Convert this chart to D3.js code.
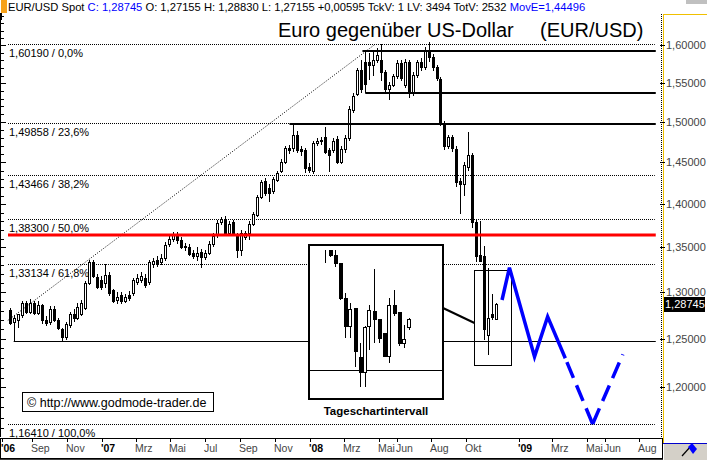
<!DOCTYPE html>
<html><head><meta charset="utf-8">
<script src="https://cdn.jsdelivr.net/npm/d3@7"></script>
<style>body{margin:0;background:#fff}svg{display:block;font-family:"Liberation Sans",Arial,sans-serif}</style>
</head><body><svg id="c" width="707" height="460"></svg>
<script>
// ---------- DATA ----------
const weekStart = "2006-07-23";
const open  = [1.281,1.268,1.270,1.275,1.288,1.279,1.288,1.278,1.286,1.270,1.268,1.282,1.270,1.260,1.252,1.265,1.277,1.272,1.276,1.283,1.310,1.333,1.317,1.314,1.310,1.319,1.302,1.292,1.297,1.291,1.297,1.299,1.311,1.314,1.316,1.311,1.331,1.336,1.333,1.338,1.354,1.360,1.364,1.359,1.350,1.351,1.344,1.340,1.345,1.339,1.344,1.354,1.364,1.379,1.383,1.366,1.379,1.364,1.347,1.362,1.366,1.377,1.387,1.409,1.428,1.419,1.416,1.429,1.440,1.451,1.468,1.468,1.484,1.466,1.465,1.445,1.440,1.474,1.476,1.481,1.465,1.465,1.479,1.451,1.466,1.480,1.516,1.536,1.567,1.549,1.578,1.574,1.581,1.580,1.564,1.543,1.548,1.559,1.577,1.548,1.578,1.537,1.561,1.578,1.571,1.591,1.584,1.571,1.556,1.499,1.470,1.481,1.467,1.427,1.424,1.444,1.459,1.379,1.341,1.340,1.254,1.276,1.27155];
const high  = [1.283,1.275,1.277,1.291,1.290,1.293,1.290,1.290,1.287,1.274,1.285,1.285,1.272,1.262,1.268,1.279,1.282,1.288,1.292,1.312,1.336,1.336,1.320,1.318,1.331,1.322,1.304,1.300,1.300,1.298,1.301,1.316,1.320,1.322,1.320,1.336,1.338,1.340,1.342,1.356,1.365,1.368,1.368,1.362,1.355,1.354,1.347,1.351,1.348,1.347,1.357,1.367,1.381,1.385,1.386,1.380,1.382,1.366,1.370,1.369,1.380,1.391,1.411,1.429,1.431,1.424,1.432,1.440,1.454,1.470,1.472,1.497,1.489,1.470,1.468,1.449,1.477,1.480,1.482,1.494,1.468,1.480,1.483,1.470,1.484,1.520,1.537,1.570,1.581,1.582,1.590,1.594,1.596,1.602,1.567,1.552,1.562,1.580,1.580,1.582,1.581,1.564,1.581,1.583,1.598,1.604,1.588,1.574,1.558,1.502,1.484,1.484,1.470,1.431,1.450,1.488,1.462,1.382,1.380,1.352,1.327,1.298,1.28830];
const low   = [1.265,1.247,1.262,1.272,1.276,1.276,1.275,1.275,1.266,1.264,1.265,1.268,1.259,1.248,1.249,1.262,1.268,1.270,1.274,1.281,1.308,1.316,1.304,1.302,1.305,1.296,1.288,1.287,1.287,1.288,1.290,1.296,1.308,1.310,1.305,1.308,1.327,1.328,1.330,1.335,1.350,1.356,1.354,1.348,1.346,1.340,1.337,1.335,1.327,1.336,1.341,1.351,1.361,1.376,1.363,1.363,1.364,1.338,1.340,1.358,1.358,1.374,1.385,1.406,1.410,1.403,1.412,1.426,1.437,1.448,1.460,1.463,1.461,1.458,1.437,1.437,1.436,1.470,1.472,1.460,1.439,1.461,1.448,1.448,1.462,1.477,1.512,1.533,1.537,1.546,1.554,1.560,1.577,1.553,1.536,1.528,1.545,1.555,1.553,1.544,1.531,1.534,1.557,1.566,1.567,1.578,1.566,1.553,1.495,1.465,1.466,1.463,1.420,1.389,1.410,1.440,1.372,1.333,1.334,1.249,1.233,1.270,1.27155];
const close = [1.267,1.272,1.276,1.288,1.279,1.288,1.278,1.286,1.270,1.267,1.282,1.270,1.262,1.252,1.266,1.276,1.272,1.284,1.288,1.310,1.333,1.318,1.306,1.306,1.319,1.299,1.290,1.295,1.291,1.295,1.294,1.313,1.316,1.318,1.308,1.333,1.335,1.332,1.338,1.353,1.360,1.364,1.358,1.351,1.352,1.343,1.340,1.344,1.339,1.344,1.354,1.363,1.378,1.383,1.366,1.377,1.367,1.347,1.367,1.366,1.377,1.388,1.409,1.426,1.413,1.413,1.430,1.437,1.451,1.468,1.465,1.484,1.465,1.464,1.443,1.441,1.474,1.476,1.478,1.463,1.459,1.477,1.451,1.466,1.480,1.517,1.533,1.567,1.543,1.578,1.574,1.580,1.587,1.564,1.543,1.548,1.559,1.577,1.557,1.578,1.537,1.561,1.578,1.571,1.594,1.584,1.571,1.557,1.499,1.470,1.481,1.468,1.426,1.424,1.447,1.459,1.379,1.340,1.335,1.261,1.272,1.273,1.28745];

// Fibonacci retracement levels
const fibLevels = [1.60190, 1.49858, 1.43466, 1.38300, 1.33134, 1.16410];
const fibLabels = ["1,60190 / 0,0%","1,49858 / 23,6%","1,43466 / 38,2%","1,38300 / 50,0%","1,33134 / 61,8%","1,16410 / 100,0%"];
const fibStart = {date:"2005-11-21", price:1.16410};
const fibEnd   = {date:"2008-04-25", price:1.60190};

// drawn lines
const redLevel = 1.3642;
const blackLevels = [1.5925, 1.5373, 1.4972, 1.2476];
const blackStarts = ["2008-04-02","2008-04-07","2007-11-26","2006-07-30"];
const blackWidths = [2, 2, 2, 1];
const lineEnd = "2009-08-28";
const boxDates = ["2008-10-15","2008-12-19"];
const boxPrices = [1.3246, 1.2229];

// projection
const projDates  = ["2008-12-03","2008-12-16","2009-01-29","2009-02-21","2009-03-24"];
const projPrices = [1.2916, 1.3272, 1.2315, 1.2736, 1.2298];
const projDashDates  = ["2009-05-11","2009-03-24","2009-05-11","2009-07-03"];
const projDashPrices = [1.1637, 1.2298, 1.1637, 1.2339];

// inset daily candles
const dayLabels = ["09.10","10.10","13.10","14.10","15.10","16.10","17.10","20.10","21.10","22.10","23.10","24.10","27.10","28.10","29.10","30.10","31.10","03.11"];
const dOpen  = [1.350,1.352,1.348,1.341,1.310,1.286,1.302,1.259,1.246,1.286,1.299,1.292,1.280,1.260,1.304,1.298,1.271,1.285];
const dHigh  = [1.352,1.352,1.352,1.341,1.315,1.306,1.302,1.271,1.286,1.304,1.336,1.292,1.280,1.310,1.317,1.298,1.287,1.293];
const dLow   = [1.341,1.346,1.337,1.309,1.276,1.276,1.250,1.233,1.233,1.265,1.271,1.271,1.259,1.254,1.295,1.269,1.267,1.283];
const dClose = [1.350,1.348,1.341,1.310,1.286,1.301,1.264,1.246,1.285,1.300,1.292,1.276,1.260,1.304,1.297,1.271,1.275,1.292];
const insetLevel = 1.2476;

// axes
const priceTicks = [1.20,1.25,1.30,1.35,1.40,1.45,1.50,1.55,1.60];
const lastPrice = 1.28745;
const timeTickDates  = ["2006-07-09","2006-09-01","2006-11-01","2007-01-01","2007-03-01","2007-05-01","2007-07-01","2007-09-01","2007-11-01","2008-01-01","2008-03-01","2008-05-01","2008-06-01","2008-08-01","2008-10-01","2009-01-01","2009-03-01","2009-05-01","2009-06-01","2009-08-01"];
const timeTickLabels = ["'06","Sep","Nov","'07","Mrz","Mai","Jul","Sep","Nov","'08","Mrz","Mai","Jun","Aug","Okt","'09","Mrz","Mai","Jun","Aug"];

// ---------- CHART ----------
const svg = d3.select("#c");
const P = d3.timeParse("%Y-%m-%d");
const L = {left:8, right:662, top:14, bottom:437};
const x = d3.scaleTime().domain([P("2007-01-01"), P("2008-01-01")]).range([102, 310]);
const y = d3.scaleLog().domain([1.15103, 1.64284]).range([L.bottom, L.top]);
const fmt5 = v => d3.format(".5f")(v).replace(".", ",");
const dates = open.map((_, i) => d3.timeDay.offset(P(weekStart), 7 * i));

svg.append("rect").attr("width",707).attr("height",460).attr("fill","#fff");
svg.append("defs").append("clipPath").attr("id","plot").append("rect")
  .attr("x",L.left-1).attr("y",L.top).attr("width",L.right-L.left).attr("height",L.bottom-L.top);

const g = svg.append("g").attr("clip-path","url(#plot)");
const xEnd = x(P(lineEnd));

// fib dotted lines
fibLevels.forEach((v,i) => {
  const yy = Math.round(y(v)) + 0.5;
  g.append("line").attr("x1",L.left).attr("x2",xEnd).attr("y1",yy).attr("y2",yy)
    .attr("stroke","#000").attr("stroke-width",1).attr("stroke-dasharray","1,1");
  svg.append("text").attr("x",9).attr("y",y(v)+13).attr("font-size",11).attr("fill","#000").text(fibLabels[i]);
});
// diagonal fib trend
g.append("line").attr("x1",x(P(fibStart.date))).attr("y1",y(fibStart.price))
  .attr("x2",x(P(fibEnd.date))).attr("y2",y(fibEnd.price))
  .attr("stroke","#000").attr("stroke-width",1).attr("stroke-dasharray","1,1.6");

// candles
const cg = g.append("g").attr("shape-rendering","crispEdges");
dates.forEach((d,i) => {
  const px = Math.round(x(d));
  const up = close[i] >= open[i];
  cg.append("line").attr("x1",px+0.5).attr("x2",px+0.5).attr("y1",y(high[i])).attr("y2",y(low[i]))
    .attr("stroke","#000").attr("stroke-width",1);
  const yt = Math.round(y(Math.max(open[i],close[i]))), yb = Math.round(y(Math.min(open[i],close[i])));
  if (up) {
    cg.append("rect").attr("x",px-0.5).attr("y",yt+0.5).attr("width",2).attr("height",Math.max(1,yb-yt))
      .attr("fill","#fff").attr("stroke","#000").attr("stroke-width",1);
  } else {
    cg.append("rect").attr("x",px-1).attr("y",yt).attr("width",3).attr("height",Math.max(1,yb-yt+1)).attr("fill","#000");
  }
});

// red line and black lines
g.append("line").attr("x1",L.left).attr("x2",xEnd+1).attr("y1",y(redLevel)).attr("y2",y(redLevel))
  .attr("stroke","#ff0000").attr("stroke-width",3);
blackLevels.forEach((v,i) => {
  g.append("line").attr("x1",x(P(blackStarts[i]))).attr("x2",xEnd+1).attr("y1",Math.round(y(v))+(blackWidths[i]===1?0.5:0)).attr("y2",Math.round(y(v))+(blackWidths[i]===1?0.5:0))
    .attr("stroke","#000").attr("stroke-width",blackWidths[i]);
});
// left side of consolidation box
g.append("line").attr("x1",Math.round(x(P(blackStarts[1])))+0.5).attr("x2",Math.round(x(P(blackStarts[1])))+0.5)
  .attr("y1",y(blackLevels[0])).attr("y2",y(blackLevels[1])).attr("stroke","#000").attr("stroke-width",1);

// small box around Oct candles
const bx0 = Math.round(x(P(boxDates[0])))+0.5, bx1 = Math.round(x(P(boxDates[1])))+0.5;
const by0 = Math.round(y(boxPrices[0]))+0.5, by1 = Math.round(y(boxPrices[1]))+0.5;
g.append("rect").attr("x",bx0).attr("y",by0).attr("width",bx1-bx0).attr("height",by1-by0)
  .attr("fill","none").attr("stroke","#000").attr("stroke-width",1);

// projection
const pl = d3.line().x(d=>x(P(d[0]))).y(d=>y(d[1]));
g.append("path").attr("d",pl(projDates.map((d,i)=>[d,projPrices[i]])))
  .attr("fill","none").attr("stroke","#0000ff").attr("stroke-width",3.5).attr("stroke-linejoin","miter");
[[0,1],[2,3]].forEach(([a,b]) => {
  g.append("path").attr("d",pl([[projDashDates[a],projDashPrices[a]],[projDashDates[b],projDashPrices[b]]]))
    .attr("fill","none").attr("stroke","#0000ff").attr("stroke-width",3.5).attr("stroke-dasharray","17,8");
});

// connector from inset to box
svg.append("line").attr("x1",443).attr("y1",308).attr("x2",bx0).attr("y2",323)
  .attr("stroke","#000").attr("stroke-width",2);

// inset
const IN = {x:309, y:245, w:134, h:154};
svg.append("rect").attr("x",IN.x).attr("y",IN.y).attr("width",IN.w).attr("height",IN.h)
  .attr("fill","#fff").attr("stroke","#000").attr("stroke-width",2);
const xi = d3.scalePoint().domain(dayLabels).range([325, 409]);
const yi = d3.scaleLinear().domain([1.2252, 1.3556]).range([396, 246]);
svg.append("line").attr("x1",IN.x+1).attr("x2",IN.x+IN.w-1).attr("y1",Math.round(yi(insetLevel))+0.5).attr("y2",Math.round(yi(insetLevel))+0.5)
  .attr("stroke","#000").attr("stroke-width",1);
const ig = svg.append("g").attr("shape-rendering","crispEdges");
dayLabels.forEach((d,i) => {
  const px = Math.round(xi(d));
  ig.append("line").attr("x1",px+0.5).attr("x2",px+0.5).attr("y1",yi(dHigh[i])).attr("y2",yi(dLow[i]))
    .attr("stroke","#000").attr("stroke-width",1);
  const yt = Math.round(yi(Math.max(dOpen[i],dClose[i]))), yb = Math.round(yi(Math.min(dOpen[i],dClose[i])));
  if (dClose[i] > dOpen[i]) {
    ig.append("rect").attr("x",px-1.5).attr("y",yt+0.5).attr("width",3).attr("height",Math.max(1,yb-yt))
      .attr("fill","#fff").attr("stroke","#000").attr("stroke-width",1);
  } else if (dClose[i] < dOpen[i]) {
    ig.append("rect").attr("x",px-1).attr("y",yt).attr("width",4).attr("height",Math.max(1,yb-yt+1)).attr("fill","#000");
  }
});
svg.append("text").attr("x",IN.x+IN.w/2).attr("y",415).attr("text-anchor","middle")
  .attr("font-size",11.5).attr("font-weight","bold").text("Tageschartintervall");

// copyright box
svg.append("rect").attr("x",22.5).attr("y",392.5).attr("width",191).attr("height",19)
  .attr("fill","#fff").attr("stroke","#000").attr("stroke-width",1);
svg.append("text").attr("x",27).attr("y",407).attr("font-size",12.5).text("\u00A9 http://www.godmode-trader.de");

// title
svg.append("text").attr("x",278).attr("y",37).attr("font-size",20).text("Euro gegenüber US-Dollar");
svg.append("text").attr("x",540).attr("y",37).attr("font-size",20).text("(EUR/USD)");

// header
svg.append("rect").attr("x",1).attr("y",0).attr("width",6).attr("height",13).attr("fill","#f7a11a");
svg.append("rect").attr("x",0).attr("y",13).attr("width",2).attr("height",7).attr("fill","#000");
const hdr = svg.append("text").attr("x",8).attr("y",11).attr("font-size",11.2);
hdr.append("tspan").text("EUR/USD Spot ");
hdr.append("tspan").attr("fill","#0000ff").text("C: 1,28745");
hdr.append("tspan").text(" O: 1,27155 H: 1,28830 L: 1,27155 +0,00595 TckV: 1 LV: 3494 TotV: 2532 ");
hdr.append("tspan").attr("fill","#0000ff").text("MovE=1,44496");
svg.append("rect").attr("x",686).attr("y",0).attr("width",21).attr("height",4).attr("fill","#c0c0c0");

// left axis ticks
const lt = svg.append("g").attr("shape-rendering","crispEdges");
lt.append("line").attr("x1",0.5).attr("x2",0.5).attr("y1",L.top).attr("y2",L.bottom).attr("stroke","#000");
d3.range(116, 165).map(v => v/100).forEach(v => {
  const yy = Math.round(y(v))+0.5;
  if (yy < L.top || yy > L.bottom) return;
  lt.append("line").attr("x1",0).attr("x2",Math.round(v*100)%5===0?6:4).attr("y1",yy).attr("y2",yy).attr("stroke","#000");
});

// right axis
const ra = svg.append("g").attr("shape-rendering","crispEdges");
ra.append("line").attr("x1",661.5).attr("x2",661.5).attr("y1",L.top).attr("y2",438).attr("stroke","#000").attr("stroke-dasharray","1,1");
ra.append("line").attr("x1",663.5).attr("x2",663.5).attr("y1",L.top).attr("y2",443).attr("stroke","#f0c000");
ra.append("line").attr("x1",663).attr("x2",707).attr("y1",14.5).attr("y2",14.5).attr("stroke","#f0c000");
priceTicks.forEach(v => {
  const yy = Math.round(y(v))+0.5;
  ra.append("line").attr("x1",660).attr("x2",665).attr("y1",yy).attr("y2",yy).attr("stroke","#000");
  svg.append("text").attr("x",666).attr("y",y(v)+4).attr("font-size",11).attr("fill","#444").text(fmt5(v));
});
svg.append("rect").attr("x",664).attr("y",Math.round(y(lastPrice))-7).attr("width",41).attr("height",15).attr("fill","#000");
svg.append("text").attr("x",665).attr("y",y(lastPrice)+4).attr("font-size",11).attr("fill","#fff").text(fmt5(lastPrice));

// bottom axis
const ba = svg.append("g");
ba.append("rect").attr("x",0.5).attr("y",438.5).attr("width",662).attr("height",20).attr("fill","#fff").attr("stroke","#000").attr("stroke-width",1).attr("shape-rendering","crispEdges");
ba.append("line").attr("x1",0).attr("x2",663).attr("y1",459).attr("y2",459).attr("stroke","#000").attr("stroke-width",1.5);
timeTickDates.forEach((d,i) => {
  const px = Math.round(x(P(d)));
  const yr = timeTickLabels[i].startsWith("'");
  ba.append("line").attr("x1",px+0.5).attr("x2",px+0.5).attr("y1",439).attr("y2",442).attr("stroke","#000").attr("shape-rendering","crispEdges");
  ba.append("text").attr("x",px-1).attr("y",452).attr("font-size",10.5)
    .attr("font-weight",yr?"bold":"normal").attr("fill",yr?"#000":"#444").text(timeTickLabels[i]);
});
// corner cell
svg.append("rect").attr("x",664).attr("y",444).attr("width",43).attr("height",16).attr("fill","#d4d0c8");
svg.append("line").attr("x1",663).attr("x2",707).attr("y1",443.5).attr("y2",443.5).attr("stroke","#0000cc");
svg.append("line").attr("x1",682).attr("y1",456).attr("x2",691).attr("y2",446).attr("stroke","#000").attr("stroke-width",1.2);
svg.append("path").attr("d","M688,447 L692,443 L697,449 L693,454 Z").attr("fill","#0000ff");
</script></body></html>
